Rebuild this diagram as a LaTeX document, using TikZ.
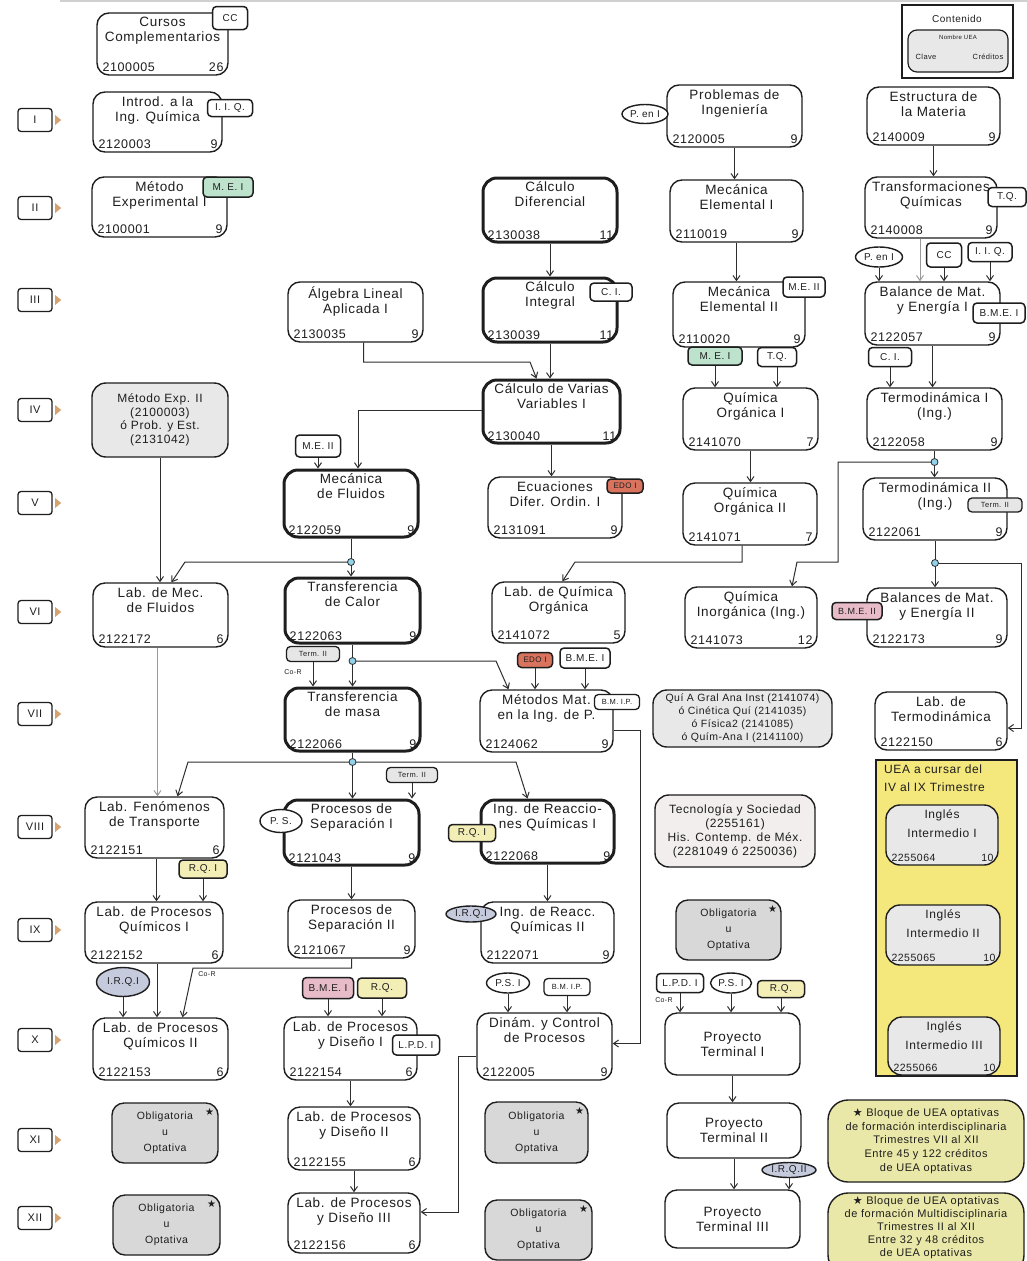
\documentclass[tikz,border=0pt]{standalone}
\usepackage{fontspec}
\setmainfont{Liberation Sans}[LetterSpace=5]
\newfontfamily\symf{DejaVu Sans}
\usetikzlibrary{arrows.meta,shapes.geometric}

\definecolor{ink}{HTML}{1E1E1E}
\definecolor{wirec}{HTML}{2E2E2E}
\definecolor{lightwire}{HTML}{9A9A9A}
\definecolor{tgreen}{HTML}{BEE3CD}
\definecolor{tred}{HTML}{D9735E}
\definecolor{tpink}{HTML}{E7BCC8}
\definecolor{tyellow}{HTML}{F3EDB6}
\definecolor{tblue}{HTML}{C6CADD}
\definecolor{tgray}{HTML}{E6E6E6}
\definecolor{boxgray}{HTML}{E8E8E8}
\definecolor{oblgray}{HTML}{D8D8D8}
\definecolor{tysfill}{HTML}{F2EEEE}
\definecolor{yblock}{HTML}{F4E77B}
\definecolor{bloquec}{HTML}{E9E8A8}
\definecolor{dotblue}{HTML}{92D2EA}
\definecolor{semtri}{HTML}{D6A26F}
\definecolor{topline}{HTML}{D0D0D0}

% course box: [style]{name}{x1}{y1}{x2}{y2}{title}{code}{credits}
\newcommand\uea[9][uea]{%
  \pgfmathsetmacro\ueaw{#5-#3}%
  \pgfmathsetmacro\ueah{#6-#4}%
  \node[#1, minimum width=\ueaw pt, minimum height=\ueah pt] (#2) at ({(#3+#5)/2},{(#4+#6)/2}) {};
  \node[ttl, anchor=north] (#2-t) at ([yshift=-5pt]#2.north) {#7};
  \node[cde, anchor=base west] (#2-c) at ([xshift=6pt,yshift=4pt]#2.south west) {#8};
  \node[cde, anchor=base east] (#2-k) at ([xshift=-5pt,yshift=4pt]#2.south east) {#9};
}
% small prerequisite tag: [style]{name}{x}{y}{w}{h}{text}
\newcommand\tg[7][tag]{\node[#1, minimum width=#5pt, minimum height=#6pt] (#2) at (#3,#4) {#7};}
% vertical arrow from a point down to the top of a node
\newcommand\drop[3][arr]{\draw[#1] (#2) -- (#2 |- #3.north);}

\begin{document}
\begin{tikzpicture}[x=1pt,y=-1pt,
  every node/.style={text=ink},
  uea/.style={draw=ink, line width=1.4pt, rounded corners=12pt, fill=white, inner sep=0pt},
  ueathick/.style={uea, line width=3pt, rounded corners=14pt},
  ttl/.style={font=\fontsize{13.5}{15}\selectfont, align=center, inner sep=0pt},
  cde/.style={font=\fontsize{12.5}{13}\selectfont, inner sep=0pt},
  ptbox/.style={uea, font=\fontsize{13.5}{15}\selectfont, align=center},
  graybox/.style={uea, fill=boxgray, rounded corners=14pt},
  oblbox/.style={uea, fill=oblgray, rounded corners=12pt, font=\fontsize{10.5}{16}\selectfont, align=center},
  tag/.style={draw=ink, line width=1.5pt, rounded corners=4pt, fill=white, inner sep=0pt, font=\fontsize{10}{10}\selectfont},
  tagsm/.style={tag, fill=tgray, line width=1.3pt, font=\fontsize{7.5}{8}\selectfont},
  tagell/.style={draw=ink, line width=1.4pt, ellipse, fill=white, inner sep=0pt, font=\fontsize{10}{10}\selectfont},
  corl/.style={inner sep=0pt, font=\fontsize{7}{7}\selectfont},
  arr/.style={draw=wirec, line width=1pt, -{Straight Barb[length=5pt,width=7pt]}},
  arrlight/.style={arr, draw=lightwire},
  wire/.style={draw=wirec, line width=1pt},
  dot/.style={circle, draw=wirec, line width=0.8pt, fill=dotblue, minimum size=7pt, inner sep=0pt},
  sem/.style={draw=ink, line width=1.3pt, rounded corners=3pt, fill=white, minimum width=34pt, minimum height=23pt, inner sep=0pt, font=\fontsize{11}{11}\selectfont},
  star/.style={inner sep=0pt, font=\symf\fontsize{10}{10}\selectfont}
]
\fill[white] (0,0) rectangle (1027,1261);
\useasboundingbox (0,0) rectangle (1027,1261);
\draw[topline, line width=1.2pt] (60,1) -- (1027,1);

% trimester markers
\foreach \nm/\lab/\yy in {s1/I/120, s2/II/208, s3/III/300, s4/IV/410, s5/V/503, s6/VI/612,
    s7/VII/714, s8/VIII/827, s9/IX/930, s10/X/1040, s11/XI/1140, s12/XII/1218}{
  \node[sem] (\nm) at (35,\yy) {\lab};
  \fill[semtri] ([xshift=2.5pt,yshift=5pt]\nm.east) -- ++(6,5) -- ++(-6,5) -- cycle;
}

% legend
\node[draw=ink, line width=2pt, minimum width=111pt, minimum height=73pt, inner sep=0pt] (leg) at (957.5,41.5) {};
\node[font=\fontsize{10}{10}\selectfont, inner sep=0pt] (leg-t) at (957,19) {Contenido};
\node[uea, fill=boxgray, line width=1.2pt, rounded corners=9pt, minimum width=100pt, minimum height=42pt] (leg-b) at (958,51) {};
\node[font=\fontsize{6}{6}\selectfont, inner sep=0pt] (leg-n) at (958,37) {Nombre UEA};
\node[font=\fontsize{7.5}{7.5}\selectfont, inner sep=0pt] (leg-c) at (926,57) {Clave};
\node[font=\fontsize{7.5}{7.5}\selectfont, inner sep=0pt] (leg-k) at (988,57) {Créditos};

% courses
\uea{cc}{97}{13}{228}{75}{Cursos\\Complementarios}{2100005}{26}
\uea{iiq}{93}{92}{222}{152}{Introd. a la\\Ing. Química}{2120003}{9}
\uea{mei}{92}{177}{227}{237}{Método\\Experimental I}{2100001}{9}
\uea{pi}{667}{85}{802}{147}{Problemas de\\Ingeniería}{2120005}{9}
\uea{em}{867}{87}{1000}{145}{Estructura de\\la Materia}{2140009}{9}
\uea[ueathick]{cd}{483}{178}{617}{242}{Cálculo\\Diferencial}{2130038}{11}
\uea{me1}{670}{180}{803}{242}{Mecánica\\Elemental I}{2110019}{9}
\uea{tq}{865}{177}{997}{238}{Transformaciones\\Químicas}{2140008}{9}
\uea{al}{288}{282}{423}{342}{Álgebra Lineal\\Aplicada I}{2130035}{9}
\uea[ueathick]{ci}{483}{278}{617}{342}{Cálculo\\Integral}{2130039}{11}
\uea{me2}{673}{282}{805}{347}{Mecánica\\Elemental II}{2110020}{9}
\uea{bm1}{865}{282}{1000}{345}{Balance de Mat.\\y Energía I}{2122057}{9}
\uea[ueathick]{cvv}{483}{380}{620}{443}{Cálculo de Varias\\Variables I}{2130040}{11}
\uea{qo1}{683}{388}{818}{450}{Química\\Orgánica I}{2141070}{7}
\uea{t1}{867}{388}{1002}{450}{Termodinámica I\\(Ing.)}{2122058}{9}
\uea[ueathick]{mf}{284}{470}{418}{537}{Mecánica\\de Fluidos}{2122059}{9}
\uea{ed}{488}{477}{622}{538}{Ecuaciones\\Difer. Ordin. I}{2131091}{9}
\uea{qo2}{683}{483}{817}{545}{Química\\Orgánica II}{2141071}{7}
\uea{t2}{863}{478}{1007}{540}{Termodinámica II\\(Ing.)}{2122061}{9}
\uea{lmf}{93}{583}{228}{647}{Lab. de Mec.\\de Fluidos}{2122172}{6}
\uea[ueathick]{tc}{285}{578}{420}{643}{Transferencia\\de Calor}{2122063}{9}
\uea{lqo}{492}{582}{625}{643}{Lab. de Química\\Orgánica}{2141072}{5}
\uea{qi}{685}{587}{817}{648}{Química\\Inorgánica (Ing.)}{2141073}{12}
\uea{bm2}{867}{588}{1007}{647}{Balances de Mat.\\y Energía II}{2122173}{9}
\uea[ueathick]{tm}{285}{688}{420}{751}{Transferencia\\de masa}{2122066}{9}
\uea{mm}{480}{690}{613}{752}{Métodos Mat.\\en la Ing. de P.}{2124062}{9}
\uea{lt}{875}{692}{1007}{750}{Lab. de\\Termodinámica}{2122150}{6}
\uea{lft}{85}{797}{224}{858}{Lab. Fenómenos\\de Transporte}{2122151}{6}
\uea[ueathick]{ps1}{284}{800}{419}{865}{Procesos de\\Separación I}{2121043}{9}
\uea[ueathick]{ir1}{481}{800}{614}{863}{Ing. de Reaccio-\\nes Químicas I}{2122068}{9}
\uea{lpq1}{85}{902}{223}{963}{Lab. de Procesos\\Químicos I}{2122152}{6}
\uea{ps2}{288}{900}{415}{958}{Procesos de\\Separación II}{2121067}{9}
\uea{ir2}{481}{902}{614}{963}{Ing. de Reacc.\\Químicas II}{2122071}{9}
\uea{lpq2}{93}{1018}{228}{1080}{Lab. de Procesos\\Químicos II}{2122153}{6}
\uea{lpd1}{284}{1017}{417}{1080}{Lab. de Procesos\\y Diseño I}{2122154}{6}
\uea{dc}{477}{1013}{612}{1080}{Dinám. y Control\\de Procesos}{2122005}{9}
\uea{lpd2}{288}{1107}{420}{1170}{Lab. de Procesos\\y Diseño II}{2122155}{6}
\uea{lpd3}{288}{1193}{420}{1253}{Lab. de Procesos\\y Diseño III}{2122156}{6}

\node[ptbox, minimum width=135pt, minimum height=62pt] (pt1) at (732.5,1044) {Proyecto\\Terminal I};
\node[ptbox, minimum width=134pt, minimum height=55pt] (pt2) at (734,1130.5) {Proyecto\\Terminal II};
\node[ptbox, minimum width=135pt, minimum height=58pt] (pt3) at (732.5,1219) {Proyecto\\Terminal III};

% alternative and elective boxes
\node[graybox, minimum width=136pt, minimum height=74pt, font=\fontsize{12}{13.5}\selectfont, align=center] (mex) at (160,420)
  {Método Exp. II\\(2100003)\\ó Prob. y Est.\\(2131042)};
\node[graybox, minimum width=179pt, minimum height=57pt, font=\fontsize{10.5}{13}\selectfont, align=center] (qag) at (742.5,718.5)
  {Quí A Gral Ana Inst (2141074)\\ó Cinética Quí (2141035)\\ó Física2 (2141085)\\ó Quím-Ana I (2141100)};
\node[graybox, fill=tysfill, minimum width=160pt, minimum height=72pt, font=\fontsize{12}{14}\selectfont, align=center] (tys) at (735,831)
  {Tecnología y Sociedad\\(2255161)\\His. Contemp. de Méx.\\(2281049 ó 2250036)};

\foreach \nm/\xx/\yy/\ww/\hh in {o9/728.5/930/105/60, o11a/165/1133/106/60, o12a/166.5/1225/107/60,
    o11c/536.5/1132.5/103/61, o12c/538.5/1230/107/60}{
  \node[oblbox, minimum width=\ww pt, minimum height=\hh pt] (\nm) at (\xx,\yy) {Obligatoria\\u\\Optativa};
  \node[star] (\nm-s) at ([xshift=-9pt,yshift=-10pt]\nm.north east) {★};
}

% English block
\node[draw=ink, line width=2pt, fill=yblock, minimum width=141pt, minimum height=316pt, inner sep=0pt] (yb) at (946.5,918) {};
\node[anchor=north west, align=left, inner sep=0pt, font=\fontsize{12}{18}\selectfont] (yb-t) at (884,765) {UEA a cursar del\\IV al IX Trimestre};
\begin{scope}[ttl/.style={font=\fontsize{12}{19}\selectfont, align=center, inner sep=0pt},
              cde/.style={font=\fontsize{10.5}{11}\selectfont, inner sep=0pt}]
\uea[graybox]{in1}{886}{805}{998}{865}{Inglés\\Intermedio I}{2255064}{10}
\uea[graybox]{in2}{886}{905}{1000}{965}{Inglés\\Intermedio II}{2255065}{10}
\uea[graybox]{in3}{888}{1017}{1000}{1075}{Inglés\\Intermedio III}{2255066}{10}
\end{scope}

% elective blocks
\node[uea, fill=bloquec, rounded corners=20pt, minimum width=196pt, minimum height=82pt, font=\fontsize{11}{13.8}\selectfont, align=center] (bq1) at (926,1141)
  {{\symf ★} Bloque de UEA optativas\\de formación interdisciplinaria\\Trimestres VII al XII\\Entre 45 y 122 créditos\\de UEA optativas};
\node[uea, fill=bloquec, rounded corners=20pt, minimum width=196pt, minimum height=82pt] (bq2) at (926,1234) {};
\node[anchor=south, inner sep=0pt, font=\fontsize{11}{13}\selectfont, align=center] (bq2-t) at (926,1259)
  {{\symf ★} Bloque de UEA optativas\\de formación Multidisciplinaria\\Trimestres II al XII\\Entre 32 y 48 créditos\\de UEA optativas};

% tags
\tg{tCCa}{230}{18}{35}{23}{CC}
\tg{tIIQa}{230}{108}{45}{17}{I. I. Q.}
\tg[tag,fill=tgreen]{tMEIa}{228}{187}{50}{20}{M. E. I}
\tg[tagell]{tPENa}{645}{114}{46}{19}{P. en I}
\tg{tTQa}{1007}{197}{38}{19}{T.Q.}
\tg[tagell]{tPENb}{879}{257}{47}{20}{P. en I}
\tg{tCCb}{944}{255}{35}{24}{CC}
\tg{tIIQb}{990}{252}{44}{19}{I. I. Q.}
\tg{tBMEa}{999}{313}{52}{20}{B.M.E. I}
\tg{tCIa}{611}{292}{42}{18}{C. I.}
\tg{tMEIIa}{804}{287}{42}{20}{M.E. II}
\tg[tag,fill=tgreen]{tMEIc}{715}{356}{54}{18}{M. E. I}
\tg{tTQb}{777}{357}{39}{19}{T.Q.}
\tg{tCIb}{890}{357}{43}{19}{C. I.}
\tg{tMEIIb}{318}{446}{45}{22}{M.E. II}
\tg[tag,fill=tred,font=\fontsize{8}{8}\selectfont]{tEDOa}{625}{486}{36}{14}{EDO I}
\tg[tagsm]{tTermB}{995}{505}{54}{14}{Term. II}
\tg[tag,fill=tpink,font=\fontsize{9}{9}\selectfont]{tBMEIIa}{857}{611}{50}{17}{B.M.E. II}
\tg[tagsm]{tTermA}{313}{654}{53}{15}{Term. II}
\tg[tag,fill=tred,font=\fontsize{8}{8}\selectfont]{tEDOb}{535}{660}{35}{15}{EDO I}
\tg{tBMEb}{585}{658}{50}{20}{B.M.E. I}
\tg[tagsm,fill=white]{tBMIPa}{617}{702}{45}{15}{B.M. I.P.}
\tg[tagsm]{tTermC}{412}{775}{51}{15}{Term. II}
\tg[tagell]{tPSa}{281}{821}{42}{23}{P. S.}
\tg[tag,fill=tyellow]{tRQIb}{472}{833}{47}{17}{R.Q. I}
\tg[tag,fill=tyellow]{tRQIa}{203}{869}{48}{18}{R.Q. I}
\tg[tagell,fill=tblue]{tIRQb}{471}{914}{50}{16}{I.R.Q.I}
\tg[tagell,fill=tblue]{tIRQa}{123}{982}{53}{29}{I.R.Q.I}
\tg[tag,fill=tpink]{tBMEc}{328}{988}{51}{21}{B.M.E. I}
\tg[tag,fill=tyellow]{tRQc}{382}{988}{49}{20}{R.Q.}
\tg{tLPDa}{416}{1045}{47}{20}{L.P.D. I}
\tg[tagell]{tPSd}{508}{983}{43}{20}{P.S. I}
\tg[tagsm,fill=white]{tBMIPd}{567}{987}{46}{17}{B.M. I.P.}
\tg{tLPDe}{680}{983}{47}{19}{L.P.D. I}
\tg[tagell]{tPSe}{731}{983}{41}{20}{P.S. I}
\tg[tag,fill=tyellow]{tRQe}{781}{989}{47}{17}{R.Q.}
\tg[tagell,fill=tblue]{tIRQf}{789}{1170}{54}{15}{I.R.Q.II}

\node[corl] (cr1) at (293,672) {Co-R};
\node[corl] (cr2) at (207,974) {Co-R};
\node[corl] (cr3) at (664,1000) {Co-R};

% junction points
\coordinate (j1) at (351,562);
\coordinate (j2) at (352.5,661);
\coordinate (j3) at (934.5,462);
\coordinate (j4) at (935,563);
\coordinate (j5) at (352.5,762);

% prerequisites
\drop{pi.south}{me1}
\drop{me1.south}{me2}
\drop{em.south}{tq}
\coordinate (tqo) at ([xshift=-11pt]tq.south);
\drop[arrlight]{tqo}{bm1}
\drop{tPENb.south}{bm1}
\drop{tCCb.south}{bm1}
\drop{tIIQb.south}{bm1}
\drop{cd.south}{ci}
\drop{ci.south}{cvv}
\draw[arr] ([xshift=8pt]al.south) |- (530,362) -- ([xshift=-15pt]cvv.north);
\draw[arr] ([yshift=1pt]cvv.west) -| ([xshift=7pt]mf.north);
\drop{cvv.south}{ed}
\drop{tMEIIb.south}{mf}
\drop{bm1.south}{t1}
\drop{tCIb.south}{t1}
\drop{qo1.south}{qo2}
\drop{tMEIc.south}{qo1}
\drop{tTQb.south}{qo1}

\draw[wire] (mf.south) -- (j1);
\drop{j1}{tc}
\draw[arr] (j1) -- (185,562) -- ([xshift=11pt]lmf.north);
\drop{mex.south}{lmf}
\draw[arr] ([xshift=-8pt]qo2.south) |- (575,562) -- ([xshift=4pt]lqo.north);

\draw[wire] (t1.south) -- (j3);
\drop{j3}{t2}
\draw[arr] (j3) -- (838,462) -- (838,562) -- (797,562) -- ([xshift=41pt]qi.north);
\draw[wire] (t2.south) -- (j4);
\drop{j4}{bm2}
\draw[arr] (j4) -- (1021,563) |- ([yshift=-7pt]lt.east);

\draw[wire] (tc.south) -- (j2);
\drop{j2}{tm}
\draw[arr] (j2) -- (496,661) -- ([xshift=-38pt]mm.north);
\drop{tTermA.south}{tm}
\drop{tEDOb.south}{mm}
\drop{tBMEb.south}{mm}
\draw[arr] ([yshift=-9pt]mm.east) -- (640,730) |- ([yshift=3pt]dc.east);

\coordinate (lmfo) at ([xshift=-3pt]lmf.south);
\drop[arrlight]{lmfo}{lft}
\draw[wire] (tm.south) -- (j5);
\drop{j5}{ps1}
\draw[arr] (j5) -- (188,762) -- ([xshift=23pt]lft.north);
\draw[arr] (j5) -- (516,762) -- ([xshift=-20pt]ir1.north);
\drop{tTermC.south}{ps1}

\coordinate (lfto) at ([xshift=2pt]lft.south);
\drop{lfto}{lpq1}
\drop{tRQIa.south}{lpq1}
\drop{ps1.south}{ps2}
\drop{ir1.south}{ir2}
\coordinate (lpq1o) at ([xshift=3pt]lpq1.south);
\drop{lpq1o}{lpq2}
\drop{tIRQa.south}{lpq2}
\draw[arr] (ps2.south) |- (193,968) -- ([xshift=22pt]lpq2.north);
\drop{tBMEc.south}{lpd1}
\drop{tRQc.south}{lpd1}
\drop{lpd1.south}{lpd2}
\drop{lpd2.south}{lpd3}
\draw[arr] ([yshift=-10pt]dc.west) -- (458,1056.5) |- ([yshift=11pt]lpd3.east);
\drop{tPSd.south}{dc}
\drop{tBMIPd.south}{dc}
\drop{tLPDe.south}{pt1}
\drop{tPSe.south}{pt1}
\drop{tRQe.south}{pt1}
\drop{pt1.south}{pt2}
\drop{pt2.south}{pt3}
\drop{tIRQf.south}{pt3}

\foreach \j in {j1,j2,j3,j4,j5}{\node[dot] (\j d) at (\j) {};}
\end{tikzpicture}
\end{document}
